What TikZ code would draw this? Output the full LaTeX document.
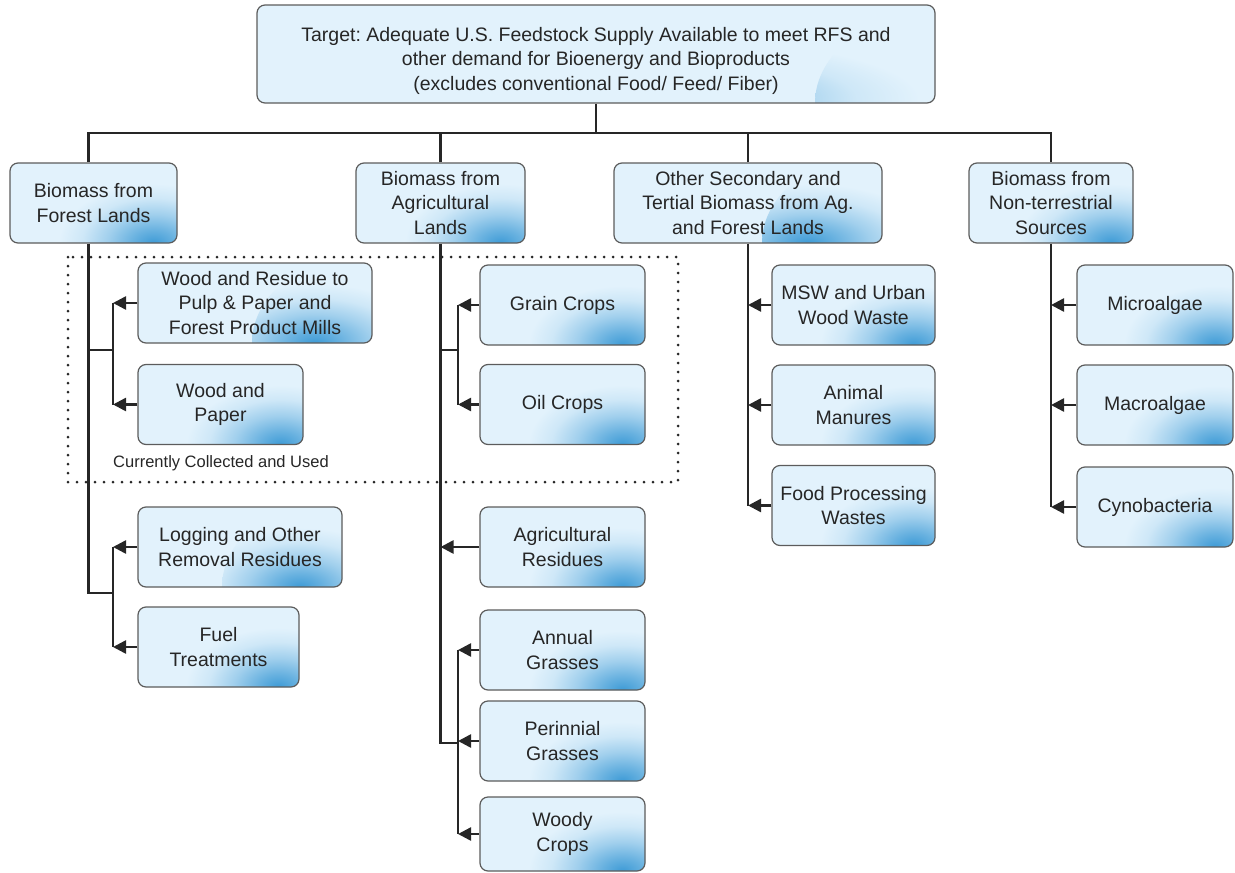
\documentclass[tikz,border=0pt]{standalone}
\usepackage{fontspec}
\setmainfont{Liberation Sans}
\usetikzlibrary{arrows.meta}
\definecolor{boxlight}{HTML}{E2F2FC}
\definecolor{boxdeep}{HTML}{3E9BD6}
\definecolor{boxedge}{HTML}{5C5C5C}
\definecolor{ink}{HTML}{262626}
\pgfdeclareradialshading{cornerglow}{\pgfpoint{0bp}{0bp}}{color(0bp)=(boxdeep);
	color(3.5bp)=(boxdeep!75!boxlight); color(8bp)=(boxdeep!40!boxlight);
	color(12.5bp)=(boxdeep!12!boxlight); color(16.5bp)=(boxlight); color(50bp)=(boxlight)}
\tikzset{
	feed/.style={draw=boxedge, line width=1.2pt, rounded corners=8pt, fill=boxlight,
		align=center, text=ink, inner sep=0pt, minimum height=80pt,
		path picture={\shade[shading=cornerglow]
			(path picture bounding box.south east) ellipse (120pt and 90pt);}},
	link/.style={line width=2.5pt, draw=ink},
	tip/.style={link, -{Triangle[length=13pt,width=13pt]}}
}

\begin{document}
\begin{tikzpicture}[x=1pt, y=-1pt, font=\fontsize{19.5}{24.5}\selectfont\frenchspacing]
			\useasboundingbox (0,0) rectangle (1235,873);
			% top and the four sources
			\node[feed, minimum width=678pt, minimum height=98pt] (target) at (596,54)
				{\rule{0pt}{28pt}Target: Adequate U.S. Feedstock Supply Available to meet RFS and\\
				other demand for Bioenergy and Bioproducts\\
				(excludes conventional Food/ Feed/ Fiber)};
			\node[feed, minimum width=167pt] (forest) at (93.5,203) {Biomass from\\Forest Lands};
			\node[feed, minimum width=169pt] (agri) at (440.5,203) {Biomass from\\Agricultural\\Lands};
			\node[feed, minimum width=268pt] (other) at (748,203) {Other Secondary and\\Tertial Biomass from Ag.\\and Forest Lands};
			\node[feed, minimum width=164pt] (nonterr) at (1051,203) {Biomass from\\Non-terrestrial\\Sources};
			% forest lands
			\node[feed, minimum width=234pt] (wrp) at (255,303) {Wood and Residue to\\Pulp \& Paper and\\Forest Product Mills};
			\node[feed, minimum width=165pt] (wp) at (220.5,404.5) {Wood and\\Paper};
			\node[feed, minimum width=204pt] (logres) at (240,547) {Logging and Other\\Removal Residues};
			\node[feed, minimum width=161pt] (fuel) at (218.5,647) {Fuel\\Treatments};
			% agricultural lands
			\node[feed, minimum width=165pt] (grain) at (562.5,305) {Grain Crops};
			\node[feed, minimum width=165pt] (oil) at (562.5,404.5) {Oil Crops};
			\node[feed, minimum width=165pt] (agres) at (562.5,547) {Agricultural\\Residues};
			\node[feed, minimum width=165pt] (annual) at (562.5,650) {Annual\\Grasses};
			\node[feed, minimum width=165pt] (peren) at (562.5,741) {Perinnial\\Grasses};
			\node[feed, minimum width=165pt, minimum height=74pt] (woody) at (562.5,834) {Woody\\Crops};
			% secondary and tertiary
			\node[feed, minimum width=163pt] (msw) at (853.5,305) {MSW and Urban\\Wood Waste};
			\node[feed, minimum width=163pt] (manure) at (853.5,405) {Animal\\Manures};
			\node[feed, minimum width=163pt] (food) at (853.5,505.5) {Food Processing\\Wastes};
			% non-terrestrial
			\node[feed, minimum width=156pt] (micro) at (1155,305) {Microalgae};
			\node[feed, minimum width=156pt] (macro) at (1155,405) {Macroalgae};
			\node[feed, minimum width=156pt] (cyno) at (1155,507) {Cynobacteria};

			\draw[ink, line width=3pt, line cap=round, dash pattern=on 0pt off 9pt]
				(68,257) rectangle (678,482);
			\node[text=ink, font=\fontsize{16.5}{19}\selectfont] (used) at (221,463) {Currently Collected and Used};

			% tree from the target
			\coordinate (bar) at (0,133);
			\draw[link] (target.south) -- (target.south |- bar);
			\draw[link] ([xshift=-5pt]forest.north) -- ([xshift=-5pt]forest.north |- bar)
				-- (nonterr.north |- bar) -- (nonterr.north);
			\draw[link] (agri.north) -- (agri.north |- bar);
			\draw[link] (other.north) -- (other.north |- bar);

			% forest branches
			\coordinate (fa) at (113,350);
			\coordinate (fb) at (113,593);
			\draw[link] ([xshift=-5pt]forest.south) |- (fb);
			\draw[link] ([xshift=-5pt]forest.south |- fa) -- (fa);
			\draw[link] (wrp.west -| fa) -- (wp.west -| fa);
			\draw[link] (logres.west -| fb) -- (fuel.west -| fb);
			\foreach \n in {wrp, wp, logres, fuel}
				\draw[tip] (\n.west) -- (\n.west -| fa);

			% agricultural branches
			\coordinate (aa) at (458,350);
			\coordinate (ab) at (458,743);
			\draw[link] (agri.south) |- (ab);
			\draw[link] (agri.south |- aa) -- (aa);
			\draw[link] (grain.west -| aa) -- (oil.west -| aa);
			\draw[link] (annual.west -| ab) -- (woody.west -| ab);
			\foreach \n in {grain, oil, annual, peren, woody}
				\draw[tip] (\n.west) -- (\n.west -| aa);
			\draw[tip] (agres.west) -- (agres.west -| agri.south);

			% secondary and non-terrestrial
			\draw[link] (other.south) -- (other.south |- food.west);
			\foreach \n in {msw, manure, food}
				\draw[tip] (\n.west) -- (\n.west -| other.south);
			\draw[link] (nonterr.south) -- (nonterr.south |- cyno.west);
			\foreach \n in {micro, macro, cyno}
				\draw[tip] (\n.west) -- (\n.west -| nonterr.south);
		\end{tikzpicture}
\end{document}
